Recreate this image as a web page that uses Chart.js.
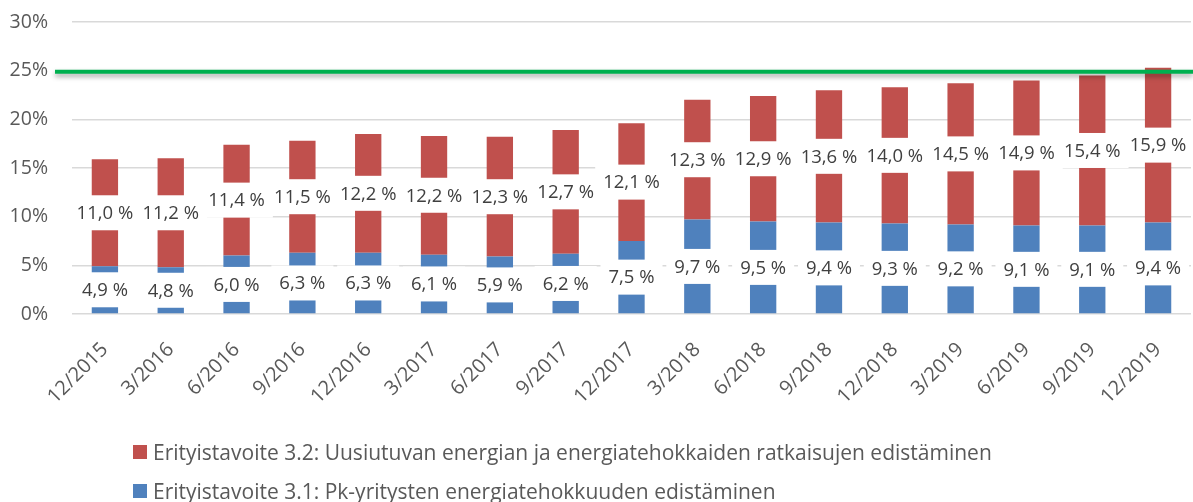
<!DOCTYPE html>
<html>
<head>
<meta charset="utf-8">
<script src="https://cdn.jsdelivr.net/npm/chart.js@4.4.1/dist/chart.umd.min.js"></script>
<style>
  html, body { margin: 0; padding: 0; background: #fff; }
  #wrap { position: relative; width: 1193px; height: 502px; overflow: hidden; }
  #legend { position: absolute; left: 0; top: 0; font-family: "Open Sans", sans-serif; font-size: 21px; color: #595959; }
  .rivi { position: absolute; left: 133px; display: flex; align-items: center; height: 24px; white-space: nowrap; }
  .ruutu { width: 14px; height: 14px; margin-right: 6px; flex: none; }
</style>
</head>
<body>
<div id="wrap">
  <canvas id="graafi" width="1193" height="502"></canvas>
  <div id="legend"></div>
</div>
<script>
const kategoriat = ["12/2015", "3/2016", "6/2016", "9/2016", "12/2016", "3/2017", "6/2017", "9/2017", "12/2017",
  "3/2018", "6/2018", "9/2018", "12/2018", "3/2019", "6/2019", "9/2019", "12/2019"];
const tavoite31 = [4.9, 4.8, 6.0, 6.3, 6.3, 6.1, 5.9, 6.2, 7.5, 9.7, 9.5, 9.4, 9.3, 9.2, 9.1, 9.1, 9.4];
const tavoite32 = [11.0, 11.2, 11.4, 11.5, 12.2, 12.2, 12.3, 12.7, 12.1, 12.3, 12.9, 13.6, 14.0, 14.5, 14.9, 15.4, 15.9];
const yTikit = [0, 5, 10, 15, 20, 25, 30];
const tavoiteTaso = 25;

const nimi31 = "Erityistavoite 3.1: Pk-yritysten energiatehokkuuden edistäminen";
const nimi32 = "Erityistavoite 3.2: Uusiutuvan energian ja energiatehokkaiden ratkaisujen edistäminen";

// arvolaatikot (valkoinen tausta) + tavoiteviiva
const arvoPlugin = {
  id: "arvot",
  afterDatasetsDraw(chart) {
    const ctx = chart.ctx;
    ctx.save();
    ctx.font = '18.5px "Open Sans"';
    ctx.textAlign = "center";
    ctx.textBaseline = "middle";
    chart.data.datasets.forEach(function(ds, i) {
      chart.getDatasetMeta(i).data.forEach(function(bar, j) {
        const txt = ds.data[j].toFixed(1).replace(".", ",") + " %";
        const w = ctx.measureText(txt).width + 16;
        const cy = (bar.y + bar.base) / 2;
        ctx.fillStyle = "#fff";
        ctx.fillRect(bar.x - w / 2, cy - 17.5, w, 35);
        ctx.fillStyle = "#404040";
        ctx.fillText(txt, bar.x, cy + 1);
      });
    });

    const y = chart.scales.y.getPixelForValue(tavoiteTaso) + 1;
    ctx.shadowColor = "rgba(0,0,0,0.35)";
    ctx.shadowBlur = 5;
    ctx.shadowOffsetY = 3;
    ctx.strokeStyle = "#00b050";
    ctx.lineWidth = 4;
    ctx.beginPath();
    ctx.moveTo(chart.chartArea.left - 17, y);
    ctx.lineTo(chart.width, y);
    ctx.stroke();
    ctx.restore();
  }
};

const data = {
  labels: kategoriat,
  datasets: [
    { label: nimi31, data: tavoite31, backgroundColor: "#4f81bd" },
    { label: nimi32, data: tavoite32, backgroundColor: "#c0504d" }
  ]
};

new Chart(document.getElementById("graafi"), {
  type: "bar",
  data: data,
  plugins: [arvoPlugin],
  options: {
    responsive: false,
    animation: false,
    devicePixelRatio: 1,
    layout: { padding: { top: 22, right: 2, bottom: 68, left: 0 } },
    datasets: { bar: { categoryPercentage: 1, barPercentage: 0.4 } },
    plugins: { legend: { display: false }, tooltip: { enabled: false } },
    scales: {
      x: {
        stacked: true,
        grid: { display: false },
        border: { display: false },
        afterFit: function(s) { s.height = 120; },
        ticks: {
          autoSkip: false, minRotation: 45, maxRotation: 45, padding: 16,
          color: "#595959", font: { family: "Open Sans", size: 20 }
        }
      },
      y: {
        stacked: true,
        min: 0, max: 30,
        afterFit: function(s) { s.width = 72; s.paddingTop = 0; s.paddingBottom = 0; },
        afterBuildTicks: function(s) { s.ticks = yTikit.map(function(v) { return { value: v }; }); },
        grid: { color: "#d9d9d9", lineWidth: 1.5, drawTicks: false },
        border: { display: false },
        ticks: {
          padding: 24, color: "#595959", font: { family: "Open Sans", size: 19.5 },
          callback: function(v) { return v + "%"; }
        }
      }
    }
  }
});

// selite: Excel-tyyliin käänteinen järjestys
const selite = document.getElementById("legend");
[{ nimi: nimi32, vari: "#c0504d", y: 440 }, { nimi: nimi31, vari: "#4f81bd", y: 479 }].forEach(function(r) {
  const div = document.createElement("div");
  div.className = "rivi";
  div.style.top = r.y + "px";
  div.innerHTML = '<span class="ruutu" style="background:' + r.vari + '"></span><span>' + r.nimi + '</span>';
  selite.appendChild(div);
});
</script>
</body>
</html>
